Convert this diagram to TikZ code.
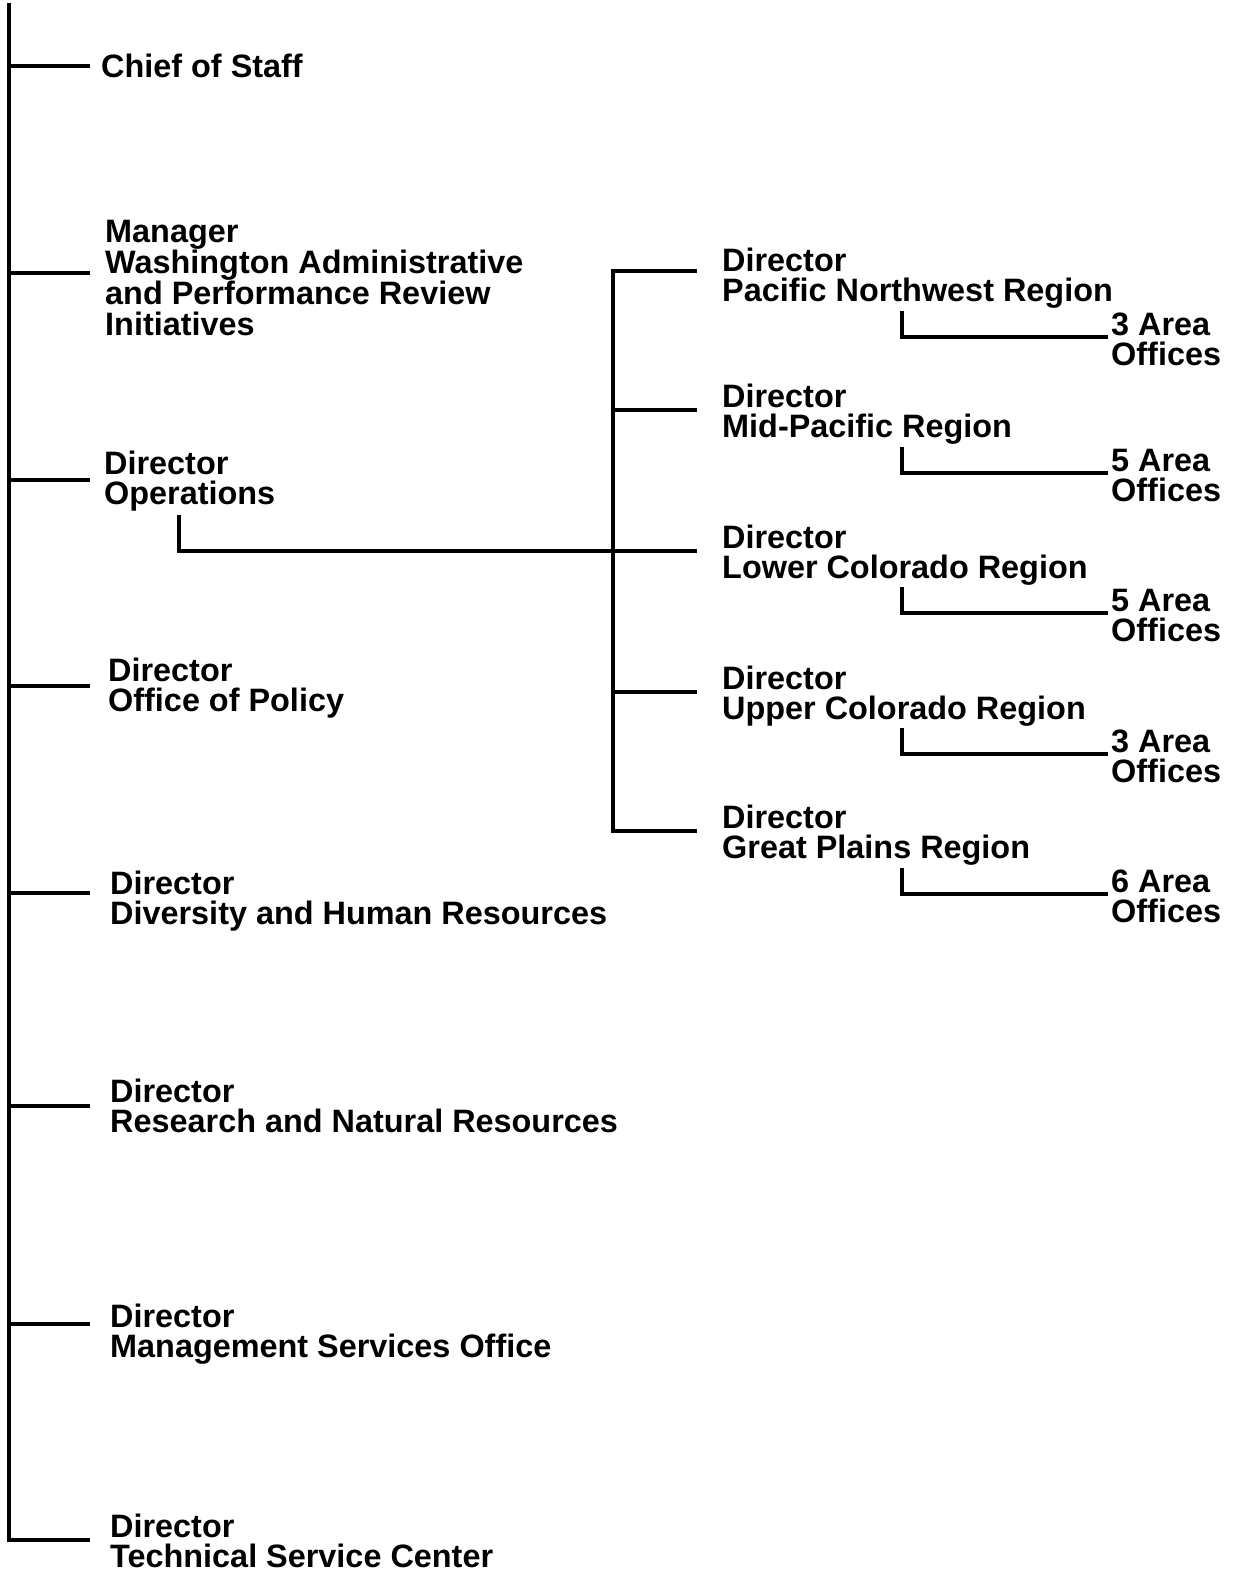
\documentclass[tikz,border=0pt]{standalone}
\usepackage{fontspec}
\setmainfont{Liberation Sans}
\newcommand\fstrut{\lineskiplimit=-100pt\relax\lineskip=0pt\relax\rule{0pt}{25pt}}
\begin{document}
\begin{tikzpicture}[x=1pt,y=-1pt,
  conn/.style={line width=3.2pt, line cap=butt, line join=miter},
  lab/.style={anchor=north west, inner sep=0pt, align=left,
    font=\fontsize{32.4}{30.3}\selectfont\bfseries}]
\useasboundingbox (0,0) rectangle (1239,1573);
% labels (top = baseline - 25)
\node[lab] (cos) at (101,52.5) {\fstrut Chief of Staff};
\node[lab] (wapr) at (105,217) {\fstrut Manager\\Washington Administrative\\and Performance Review\\Initiatives};
\node[lab] (ops) at (104,449) {\fstrut Director\\Operations};
\node[lab] (pol) at (108,656) {\fstrut Director\\Office of Policy};
\node[lab] (dhr) at (110,869) {\fstrut Director\\Diversity and Human Resources};
\node[lab] (rnr) at (110,1077) {\fstrut Director\\Research and Natural Resources};
\node[lab] (mso) at (110,1302) {\fstrut Director\\Management Services Office};
\node[lab] (tsc) at (110,1512) {\fstrut Director\\Technical Service Center};
% regions
\node[lab] (pn) at (722,246) {\fstrut Director\\Pacific Northwest Region};
\node[lab] (mp) at (722,382) {\fstrut Director\\Mid-Pacific Region};
\node[lab] (lc) at (722,523) {\fstrut Director\\Lower Colorado Region};
\node[lab] (uc) at (722,664) {\fstrut Director\\Upper Colorado Region};
\node[lab] (gp) at (722,803) {\fstrut Director\\Great Plains Region};
% area offices
\node[lab] (pnA) at (1111,310) {\fstrut 3 Area\\Offices};
\node[lab] (mpA) at (1111,446) {\fstrut 5 Area\\Offices};
\node[lab] (lcA) at (1111,586) {\fstrut 5 Area\\Offices};
\node[lab] (ucA) at (1111,727) {\fstrut 3 Area\\Offices};
\node[lab] (gpA) at (1111,867) {\fstrut 6 Area\\Offices};
% trunk coordinates
\coordinate (top) at (9,3);
\coordinate (bot) at (9,1540);
\foreach \n/\y in {cos/66,wapr/273,ops/480,pol/686,dhr/893,rnr/1106,mso/1324,tsc/1540}{
  \coordinate (t-\n) at (9,\y);
  \coordinate (e-\n) at (90,\y);
}
\draw[conn] (top) -- (bot) -- (e-tsc);
\foreach \n in {cos,wapr,ops,pol,dhr,rnr,mso}{
  \draw[conn] (t-\n) -- (e-\n);
}
% operations connector
\coordinate (opsDown) at (179,515);
\coordinate (opsCorner) at (179,551);
\coordinate (rTop) at (613,271);
\coordinate (rBot) at (613,831);
\foreach \n/\y in {pn/271,mp/410,lc/551,uc/692,gp/831}{
  \coordinate (r-\n) at (613,\y);
  \coordinate (re-\n) at (697,\y);
}
\draw[conn] (opsDown) -- (opsCorner) -- (re-lc);
\draw[conn] (re-pn) -- (rTop) -- (rBot) -- (re-gp);
\foreach \n in {mp,uc}{
  \draw[conn] (r-\n) -- (re-\n);
}
% area office connectors
\foreach \n/\y in {pn/311,mp/447,lc/587,uc/728,gp/868}{
  \coordinate (a-\n) at (902,\y);
  \coordinate (ac-\n) at (902,\y+26);
  \coordinate (ae-\n) at (1108,\y+26);
  \draw[conn] (a-\n) -- (ac-\n) -- (ae-\n);
}
\end{tikzpicture}
\end{document}
